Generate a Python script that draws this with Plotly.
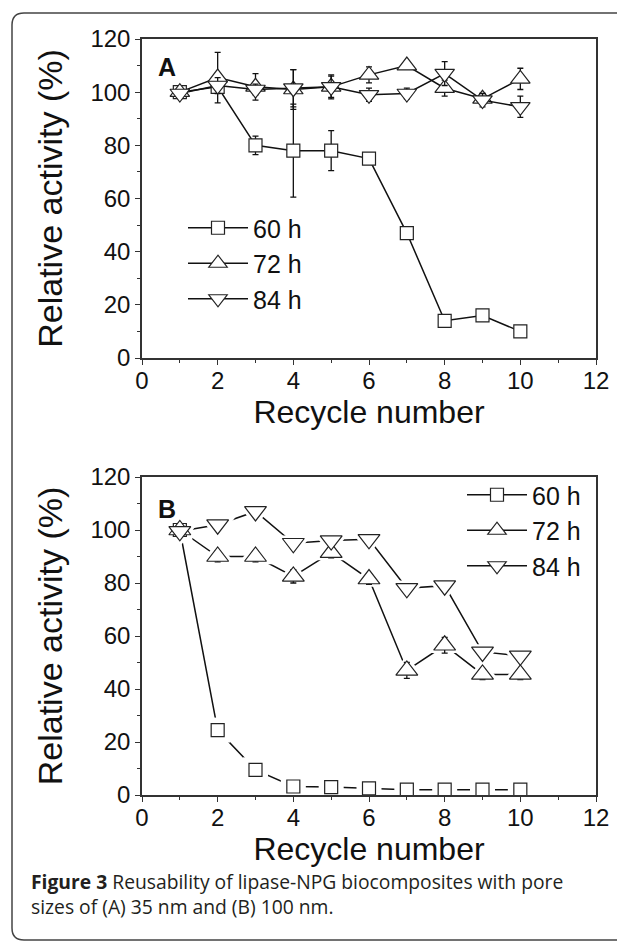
import plotly.graph_objects as go

W, H = 625, 943
OFF = 8  # page offset of the rendered figure

cycles = [1, 2, 3, 4, 5, 6, 7, 8, 9, 10]
series_names = ["60 h", "72 h", "84 h"]

# Panel A (35 nm)
a_60 = [100, 102, 80, 78, 78, 75, 47, 14, 16, 10]
a_60_err = [1, 2, 3.5, 17.5, 7.5, 1.5, 1.5, 1.5, 1, 1.5]
a_72 = [100, 105.5, 102, 101, 102, 106.5, 110, 101.5, 97.5, 105]
a_72_err = [1.5, 9.5, 5, 7.5, 4.5, 3, 0.5, 3, 2, 4]
a_84 = [99.5, 102.5, 101, 101.5, 102, 99, 99.5, 107, 97, 94.5]
a_84_err = [1, 3, 2, 7, 4, 2.5, 2, 4.5, 2.5, 4]

# Panel B (100 nm)
b_60 = [100, 24.5, 9.5, 3.2, 3, 2.5, 2, 2, 2, 2]
b_60_err = [1, 2, 1, 1.5, 1.5, 1.5, 1.5, 1.5, 1.5, 1.5]
b_72 = [100, 90, 90, 82.5, 91.5, 81.5, 47, 56.5, 45.5, 45.5]
b_72_err = [1.5, 2, 2, 2.5, 2, 2, 3, 3, 2, 2]
b_84 = [99.5, 102, 107, 95, 96, 96.5, 78, 79, 54, 52.5]
b_84_err = [1, 1, 1, 1, 1, 1, 1, 1, 1, 1]

x_ticks = [0, 2, 4, 6, 8, 10, 12]
y_ticks = [0, 20, 40, 60, 80, 100, 120]

symbols = ["square", "triangle-up", "triangle-down"]
sizes_a = [13, 17, 17]
sizes_b = [13, 19, 19]

FONT = "Liberation Sans, Arial, sans-serif"
INK = "#111111"

def px(v):
    return (v - OFF) / W

def py(v):
    return 1 - (v - OFF) / H

fig = go.Figure()

def marker(sym, sz):
    return dict(symbol=sym, size=sz, color="white", line=dict(color="#222222", width=1.2))

def errbar(e):
    return dict(type="data", array=e, visible=True, color=INK, thickness=1.3, width=3)

# Panel A: continuous lines through the markers
for name, v, e, sym, sz in zip(series_names, [a_60, a_72, a_84], [a_60_err, a_72_err, a_84_err], symbols, sizes_a):
    fig.add_trace(go.Scatter(
        x=cycles, y=v, name=name, xaxis="x", yaxis="y", legend="legend",
        mode="lines+markers", line=dict(color=INK, width=1.5),
        marker=marker(sym, sz), error_y=errbar(e)))

# Panel B: lines stop short of the markers
b_vals = [b_60, b_72, b_84]
b_errs = [b_60_err, b_72_err, b_84_err]
for name, v, sym, sz in zip(series_names, b_vals, symbols, sizes_b):
    fig.add_trace(go.Scatter(
        x=cycles, y=v, name=name, xaxis="x2", yaxis="y2", legend="legend2",
        mode="lines+markers", line=dict(color=INK, width=1.5), marker=marker(sym, sz)))
for name, v, sym, sz in zip(series_names, b_vals, symbols, sizes_b):
    fig.add_trace(go.Scatter(
        x=cycles, y=v, name=name, xaxis="x2", yaxis="y2", showlegend=False, hoverinfo="skip",
        mode="markers", marker=dict(symbol=sym, size=sz + 12, color="white", line=dict(width=0))))
for name, v, e, sym, sz in zip(series_names, b_vals, b_errs, symbols, sizes_b):
    fig.add_trace(go.Scatter(
        x=cycles, y=v, name=name, xaxis="x2", yaxis="y2", showlegend=False,
        mode="markers", marker=marker(sym, sz), error_y=errbar(e)))

def xaxis(domain, anchor):
    return dict(domain=domain, anchor=anchor, range=[0, 12], tickvals=x_ticks,
                automargin=False,
                showline=True, linecolor="#333333", linewidth=1.5, mirror=True,
                ticks="outside", ticklen=5, tickwidth=1.3, tickcolor="#333333",
                minor=dict(dtick=1, ticks="outside", ticklen=3, tickcolor="#333333", tickwidth=1.2),
                showgrid=False, zeroline=False, ticklabelstandoff=-5,
                tickfont=dict(family=FONT, size=24, color=INK),
                title=dict(text="Recycle number", font=dict(family=FONT, size=32, color=INK), standoff=0))

def yaxis(domain, anchor):
    return dict(domain=domain, anchor=anchor, range=[0, 120], tickvals=y_ticks,
                automargin=False,
                showline=True, linecolor="#333333", linewidth=1.5, mirror=True,
                ticks="outside", ticklen=5, tickwidth=1.3, tickcolor="#333333",
                minor=dict(dtick=10, ticks="outside", ticklen=3, tickcolor="#333333", tickwidth=1.2),
                showgrid=False, zeroline=False,
                tickfont=dict(family=FONT, size=24, color=INK),
                title=dict(text="Relative activity (%)", font=dict(family=FONT, size=34, color=INK), standoff=18))

xd = [px(142), px(596)]
fig.update_layout(
    width=W, height=H, margin=dict(l=0, r=0, t=0, b=0, autoexpand=False),
    paper_bgcolor="white", plot_bgcolor="white", showlegend=True,
    xaxis=xaxis(xd, "y"),
    yaxis=yaxis([py(358), py(39)], "x"),
    xaxis2=xaxis(xd, "y2"),
    yaxis2=yaxis([py(795), py(477)], "x2"),
    legend=dict(x=175 / W, y=1 - 197 / H, xanchor="left", yanchor="top",
                bgcolor="rgba(0,0,0,0)", font=dict(family=FONT, size=25, color=INK),
                itemwidth=60, tracegroupgap=0),
    legend2=dict(x=454 / W, y=1 - 464 / H, xanchor="left", yanchor="top",
                 bgcolor="rgba(0,0,0,0)", font=dict(family=FONT, size=25, color=INK),
                 itemwidth=60, tracegroupgap=0),
)

fig.add_annotation(x=0.66, y=109.5, xref="x", yref="y", text="<b>A</b>", showarrow=False,
                   font=dict(family=FONT, size=25, color=INK))
fig.add_annotation(x=0.66, y=108, xref="x2", yref="y2", text="<b>B</b>", showarrow=False,
                   font=dict(family=FONT, size=25, color=INK))

fig.add_annotation(x=px(29), y=py(894), xref="paper", yref="paper", xanchor="left", yanchor="middle",
                   align="left", showarrow=False,
                   text="<b>Figure 3</b> Reusability of lipase-NPG biocomposites with pore<br>sizes of (A) 35 nm and (B) 100 nm.",
                   font=dict(family="Open Sans, sans-serif", size=19.3, color="#231f20"))

# outer rounded frame (open on the right)
r = 12
x0, y0, y1 = px(12), py(13), py(940)
rx, ry = r / W, r / H
path = (f"M 1.05,{y0} L {x0 + rx},{y0} Q {x0},{y0} {x0},{y0 - ry} "
        f"L {x0},{y1 + ry} Q {x0},{y1} {x0 + rx},{y1} L 1.05,{y1}")
fig.add_shape(type="path", path=path, xref="paper", yref="paper",
              line=dict(color="#444444", width=1.5))

fig.write_html("out.html")
